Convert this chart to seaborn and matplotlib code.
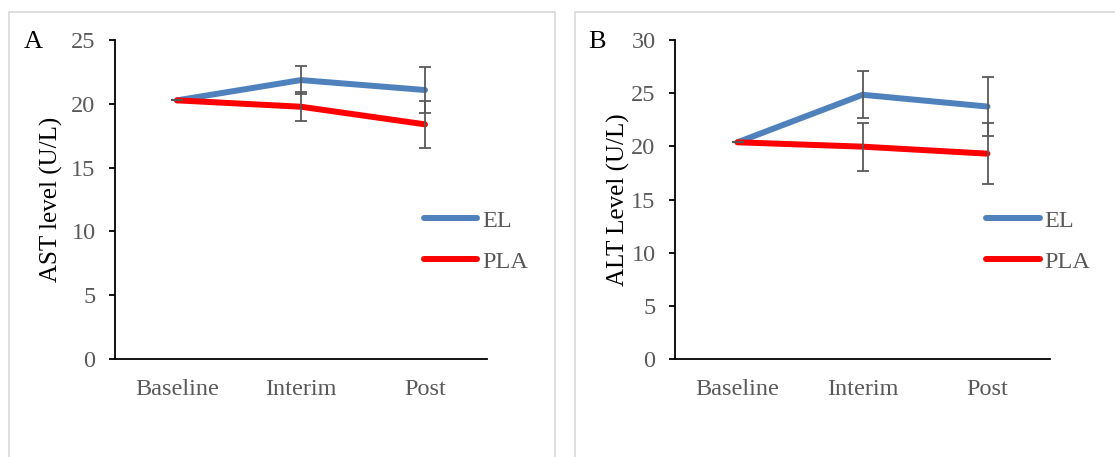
import matplotlib
matplotlib.use("Agg")
import matplotlib.pyplot as plt
import seaborn as sns
import pandas as pd
from matplotlib.patches import Rectangle

# ---- data ----
timepoints = ["Baseline", "Interim", "Post"]
groups = ["EL", "PLA"]
ast_el = [20.27, 21.86, 21.08]
ast_pla = [20.27, 19.77, 18.39]
ast_el_err = [0.0, 1.10, 1.78]
ast_pla_err = [0.0, 1.12, 1.85]
alt_el = [20.38, 24.85, 23.74]
alt_pla = [20.38, 19.97, 19.31]
alt_el_err = [0.0, 2.19, 2.74]
alt_pla_err = [0.0, 2.27, 2.88]
ast_ticks = [0, 5, 10, 15, 20, 25]
alt_ticks = [0, 5, 10, 15, 20, 25, 30]

sns.set_style("white")
plt.rcParams['font.family'] = ['Liberation Serif', 'DejaVu Serif']

palette = {"EL": "#4F81BD", "PLA": "#FF0000"}
grey = "#595959"
FS = 17.5

fig = plt.figure(figsize=(11.15, 4.57), dpi=100)

# panel frames
for x0, x1 in [(9, 555), (575, 1125)]:
    fig.patches.append(Rectangle((x0 / 1115, -0.1), (x1 - x0) / 1115, 1 - 12 / 457 + 0.1,
                                 transform=fig.transFigure, fill=False,
                                 edgecolor="#d9d9d9", linewidth=1.2, zorder=0))

def panel(rect, el, pla, el_err, pla_err, yticks, ylabel, letter, letter_x, label_x):
    ax = fig.add_axes(rect)
    df = pd.DataFrame({
        "time": timepoints * 2,
        "value": el + pla,
        "group": ["EL"] * 3 + ["PLA"] * 3,
    })
    df["x"] = list(range(3)) * 2
    sns.lineplot(data=df, x="x", y="value", hue="group", palette=palette,
                 linewidth=4.3, ax=ax, solid_capstyle="round", zorder=2)
    for vals, errs in [(el, el_err), (pla, pla_err)]:
        ax.errorbar(range(3), vals, yerr=errs, fmt="none", ecolor=grey,
                    elinewidth=1.3, capsize=4.3, capthick=1.3, zorder=3)
    ax.set_xlim(-0.5, 2.5)
    ax.set_ylim(yticks[0], yticks[-1])
    ax.set_yticks(yticks)
    ax.set_xticks(range(3))
    ax.set_xticklabels(timepoints)
    ax.set_xlabel("")
    ax.set_ylabel(ylabel, fontsize=18, color="black")
    ax.yaxis.set_label_coords(label_x, 0.5)
    for s in ["top", "right"]:
        ax.spines[s].set_visible(False)
    for s in ["left", "bottom"]:
        ax.spines[s].set_color("black")
        ax.spines[s].set_linewidth(1.3)
    ax.tick_params(axis="y", left=True, length=4, width=1.3, color="black",
                   labelsize=FS, labelcolor=grey, pad=10)
    ax.tick_params(axis="x", bottom=False, labelsize=FS, labelcolor=grey, pad=11)
    leg = ax.legend(frameon=False, loc="upper left", bbox_to_anchor=(0.83, 0.468),
                    borderaxespad=0, borderpad=0, fontsize=FS, handlelength=2.2,
                    labelspacing=0.78, handletextpad=0.2)
    for t in leg.get_texts():
        t.set_color(grey)
    for h in leg.legend_handles:
        h.set_linewidth(4.3)
    fig.text(letter_x, 1 - 42 / 457, letter, fontsize=19, color="black",
             ha="left", va="center")
    return ax

top = 1 - 40 / 457
bottom = 1 - 359 / 457
panel([115 / 1115, bottom, (487 - 115) / 1115, top - bottom],
      ast_el, ast_pla, ast_el_err, ast_pla_err, ast_ticks,
      "AST level (U/L)", "A", 24 / 1115, -0.14)
panel([675 / 1115, bottom, (1050 - 675) / 1115, top - bottom],
      alt_el, alt_pla, alt_el_err, alt_pla_err, alt_ticks,
      "ALT Level (U/L)", "B", 588 / 1115, -0.12)

fig.savefig("out.png", dpi=100)
